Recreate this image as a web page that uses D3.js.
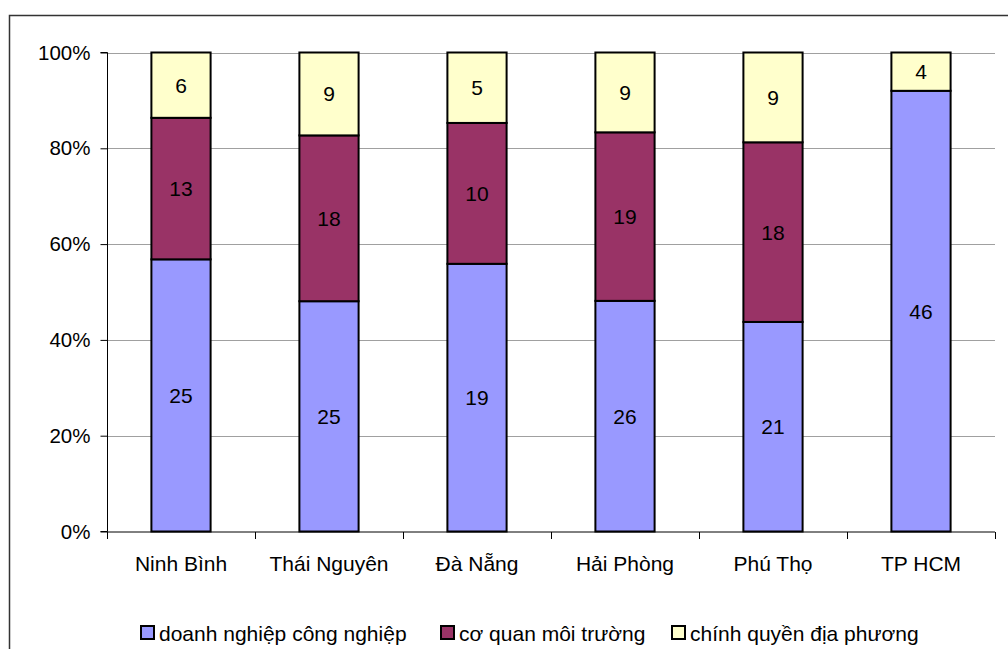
<!DOCTYPE html>
<html><head><meta charset="utf-8">
<script src="https://cdn.jsdelivr.net/npm/d3@7"></script>
<style>
html,body{margin:0;padding:0;background:#fff;}
svg{display:block;font-family:"Liberation Sans",Arial,sans-serif;}
</style></head><body>
<svg id="c" width="1008" height="649"></svg>
<script>
const categories = ["Ninh Bình","Thái Nguyên","Đà Nẵng","Hải Phòng","Phú Thọ","TP HCM"];
const seriesNames = ["doanh nghiệp công nghiệp","cơ quan môi trường","chính quyền địa phương"];
const doanhNghiep = [25,25,19,26,21,46];
const coQuan = [13,18,10,19,18,0];
const chinhQuyen = [6,9,5,9,9,4];
const colors = ["#9999FF","#993366","#FFFFCC"];
const yTicks = [0,0.2,0.4,0.6,0.8,1.0];

const svg = d3.select("#c");
// outer frame
svg.append("rect").attr("x",9.5).attr("y",15.5).attr("width",1100).attr("height",700)
  .attr("fill","none").attr("stroke","#333").attr("stroke-width",1.5);

const pL=107, pR=995, pT=52.5, pB=531.5;
const x = d3.scaleBand().domain(categories).range([pL,pR]).paddingInner(0.6).paddingOuter(0.3);
const xb = d3.scaleBand().domain(categories).range([pL,pR]);
const y = d3.scaleLinear().domain([0,1]).range([pB,pT]);

// gridlines
svg.append("g").selectAll("line").data(yTicks.slice(1)).join("line")
  .attr("x1",pL).attr("x2",pR).attr("y1",d=>Math.round(y(d))+0.5).attr("y2",d=>Math.round(y(d))+0.5)
  .attr("stroke","#a0a0a0").attr("stroke-width",1);

const data = categories.map((c,i)=>{
  const vals=[doanhNghiep[i],coQuan[i],chinhQuyen[i]];
  const tot=d3.sum(vals);
  let acc=0;
  return vals.map((v,k)=>{const s={cat:c,k,v,y0:acc/tot,y1:(acc+v)/tot};acc+=v;return s;});
});
const segs = data.flat().filter(d=>d.v>0);

svg.append("g").selectAll("rect").data(segs).join("rect")
  .attr("x",d=>x(d.cat)).attr("width",x.bandwidth())
  .attr("y",d=>y(d.y1)).attr("height",d=>y(d.y0)-y(d.y1))
  .attr("fill",d=>colors[d.k]).attr("stroke","#000").attr("stroke-width",2);

svg.append("g").selectAll("text").data(segs).join("text")
  .attr("x",d=>x(d.cat)+x.bandwidth()/2).attr("y",d=>(y(d.y0)+y(d.y1))/2)
  .attr("text-anchor","middle").attr("dominant-baseline","central")
  .attr("font-size",21).attr("fill","#000").text(d=>d.v);

// y axis
const ya = svg.append("g").attr("transform",`translate(${pL+0.5},0)`)
  .call(d3.axisLeft(y).tickValues(yTicks).tickFormat(d3.format(".0%")).tickSize(7).tickPadding(10));
ya.select(".domain").attr("stroke","#000").attr("d",`M-7,${pT}H0V${pB}H-7`);
ya.selectAll(".tick line").attr("stroke","#000");
ya.selectAll(".tick text").attr("font-size",20.5).attr("font-family","Liberation Sans, Arial, sans-serif").attr("fill","#000");

// x axis
const xa = svg.append("g").attr("transform",`translate(0,${pB+0.5})`);
xa.append("line").attr("x1",pL).attr("x2",pR).attr("stroke","#000");
xa.selectAll("line.t").data(categories.concat(["end"])).join("line").attr("class","t")
  .attr("x1",(d,i)=>Math.round(pL+i*xb.bandwidth())+0.5).attr("x2",(d,i)=>Math.round(pL+i*xb.bandwidth())+0.5)
  .attr("y1",0).attr("y2",7).attr("stroke","#000");
xa.selectAll("text").data(categories).join("text")
  .attr("x",d=>xb(d)+xb.bandwidth()/2).attr("y",31).attr("dominant-baseline","central")
  .attr("text-anchor","middle").attr("font-size",21).attr("fill","#000").text(d=>d);

// legend
const legX=[140,440,671];
const lg = svg.append("g").selectAll("g").data(seriesNames).join("g")
  .attr("transform",(d,i)=>`translate(${legX[i]},633)`);
lg.append("rect").attr("x",1).attr("y",-7).attr("width",13).attr("height",13)
  .attr("fill",(d,i)=>colors[i]).attr("stroke","#000").attr("stroke-width",2);
lg.append("text").attr("x",19).attr("y",0).attr("dominant-baseline","central")
  .attr("font-size",21).attr("fill","#000").text(d=>d);
</script>
</body></html>
